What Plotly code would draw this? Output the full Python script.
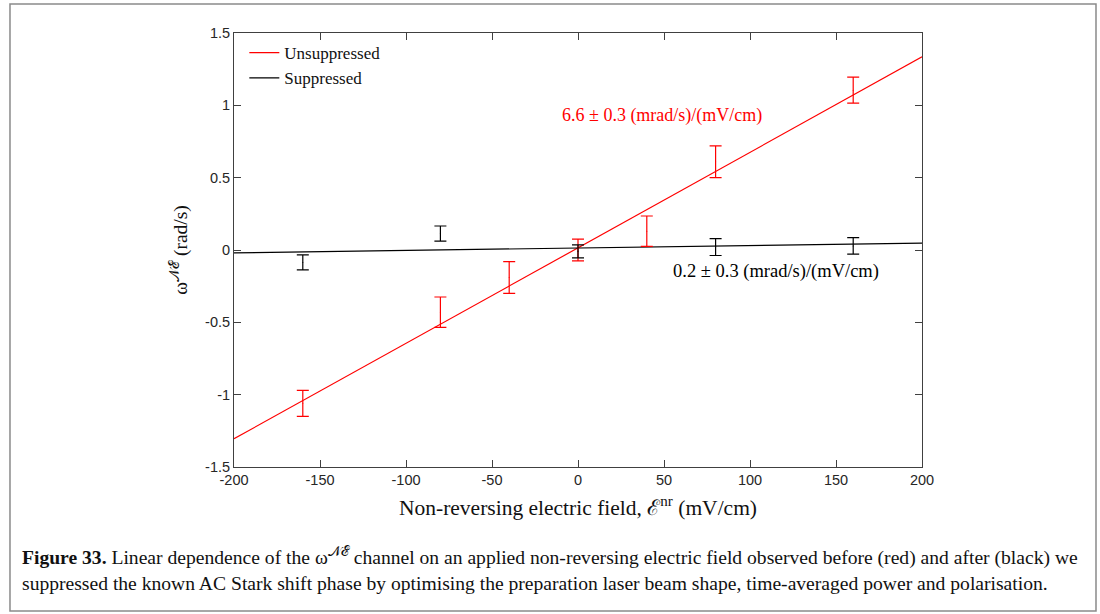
import plotly.graph_objects as go

# ---- data ----
field = [-160, -80, -40, 0, 40, 80, 160]
unsup_val = [-1.06, -0.43, -0.19, 0.00, 0.13, 0.61, 1.105]
unsup_err = [0.09, 0.105, 0.11, 0.075, 0.105, 0.11, 0.09]

field_s = [-160, -80, 0, 80, 160]
sup_val = [-0.086, 0.114, -0.01, 0.02, 0.028]
sup_err = [0.052, 0.052, 0.045, 0.058, 0.057]

fit_x = [-200, 200]
unsup_slope, unsup_icpt = 0.0066, 0.015
sup_slope, sup_icpt = 0.00017, 0.014

xticks = [-200, -150, -100, -50, 0, 50, 100, 150, 200]
xticklabels = ["-200", "-150", "-100", "-50", "0", "50", "100", "150", "200"]
yticks = [-1.5, -1, -0.5, 0, 0.5, 1, 1.5]
yticklabels = ["-1.5", "-1", "-0.5", "0", "0.5", "1", "1.5"]

RED = "#FF0000"
BLK = "#000000"
AX = "#404040"
SERIF = "Liberation Serif, DejaVu Serif, serif"
SANS = "Liberation Sans, Arial, sans-serif"

fig = go.Figure()

fig.add_trace(go.Scatter(
    x=fit_x, y=[unsup_slope * v + unsup_icpt for v in fit_x],
    mode="lines", line=dict(color=RED, width=1.2), name="Unsuppressed"))
fig.add_trace(go.Scatter(
    x=fit_x, y=[sup_slope * v + sup_icpt for v in fit_x],
    mode="lines", line=dict(color=BLK, width=1.2), name="Suppressed"))

fig.add_trace(go.Scatter(
    x=field, y=unsup_val, mode="markers", showlegend=False,
    marker=dict(size=1, color=RED),
    error_y=dict(type="data", array=unsup_err, color=RED, thickness=1.2, width=6)))
fig.add_trace(go.Scatter(
    x=field_s, y=sup_val, mode="markers", showlegend=False,
    marker=dict(size=1, color=BLK),
    error_y=dict(type="data", array=sup_err, color=BLK, thickness=1.2, width=6)))

fig.add_annotation(x=49, y=0.93, xref="x", yref="y", text="6.6 ± 0.3 (mrad/s)/(mV/cm)",
                   showarrow=False, font=dict(family=SERIF, size=18, color=RED))
fig.add_annotation(x=115, y=-0.15, xref="x", yref="y", text="0.2 ± 0.3 (mrad/s)/(mV/cm)",
                   showarrow=False, font=dict(family=SERIF, size=18.5, color=BLK))

# caption
fig.add_annotation(
    x=-0.311, y=-0.172, xref="paper", yref="paper", xanchor="left", yanchor="top",
    align="left", showarrow=False,
    text=("<b>Figure 33.</b> Linear dependence of the ω<sup>𝒩ℰ</sup> channel on an applied "
          "non-reversing electric field observed before (red) and after (black) we<br>"
          "suppressed the known AC Stark shift phase by optimising the preparation laser "
          "beam shape, time-averaged power and polarisation."),
    font=dict(family=SERIF, size=19.6, color="#111111"))

# outer frame
fig.add_shape(type="rect", xref="paper", yref="paper",
              x0=-0.3256, x1=1.2529, y0=-0.3318, y1=1.0668,
              line=dict(color="#8a8a8a", width=1.5), fillcolor="rgba(0,0,0,0)")

fig.update_layout(
    width=1100, height=614,
    margin=dict(l=234, r=178, t=33, b=147),
    paper_bgcolor="white", plot_bgcolor="white",
    showlegend=True,
    legend=dict(x=0.015, y=0.995, xanchor="left", yanchor="top",
                bgcolor="rgba(0,0,0,0)", borderwidth=0,
                font=dict(family=SERIF, size=17, color="#111111"),
                tracegroupgap=0, itemwidth=30),
    xaxis=dict(range=[-200, 200], tickvals=xticks, ticktext=xticklabels,
               showline=True, linecolor=AX, linewidth=1, mirror="ticks",
               ticks="inside", ticklen=7, tickcolor=AX, showgrid=False, zeroline=False,
               tickfont=dict(family=SANS, size=14.5, color="#262626"),
               title=dict(text="Non-reversing electric field, ℰ<sup>nr</sup> (mV/cm)",
                          font=dict(family=SERIF, size=21.5, color="#111111"), standoff=12)),
    yaxis=dict(range=[-1.5, 1.5], tickvals=yticks, ticktext=yticklabels,
               showline=True, linecolor=AX, linewidth=1, mirror="ticks",
               ticks="inside", ticklen=7, tickcolor=AX, showgrid=False, zeroline=False,
               tickfont=dict(family=SANS, size=14.5, color="#262626"),
               title=dict(text="ω<sup>𝒩ℰ</sup> (rad/s)",
                          font=dict(family=SERIF, size=19.5, color="#111111"), standoff=12)),
)

fig.write_html("out.html", config={"displayModeBar": False},
               post_script="document.body.style.margin='0';")
